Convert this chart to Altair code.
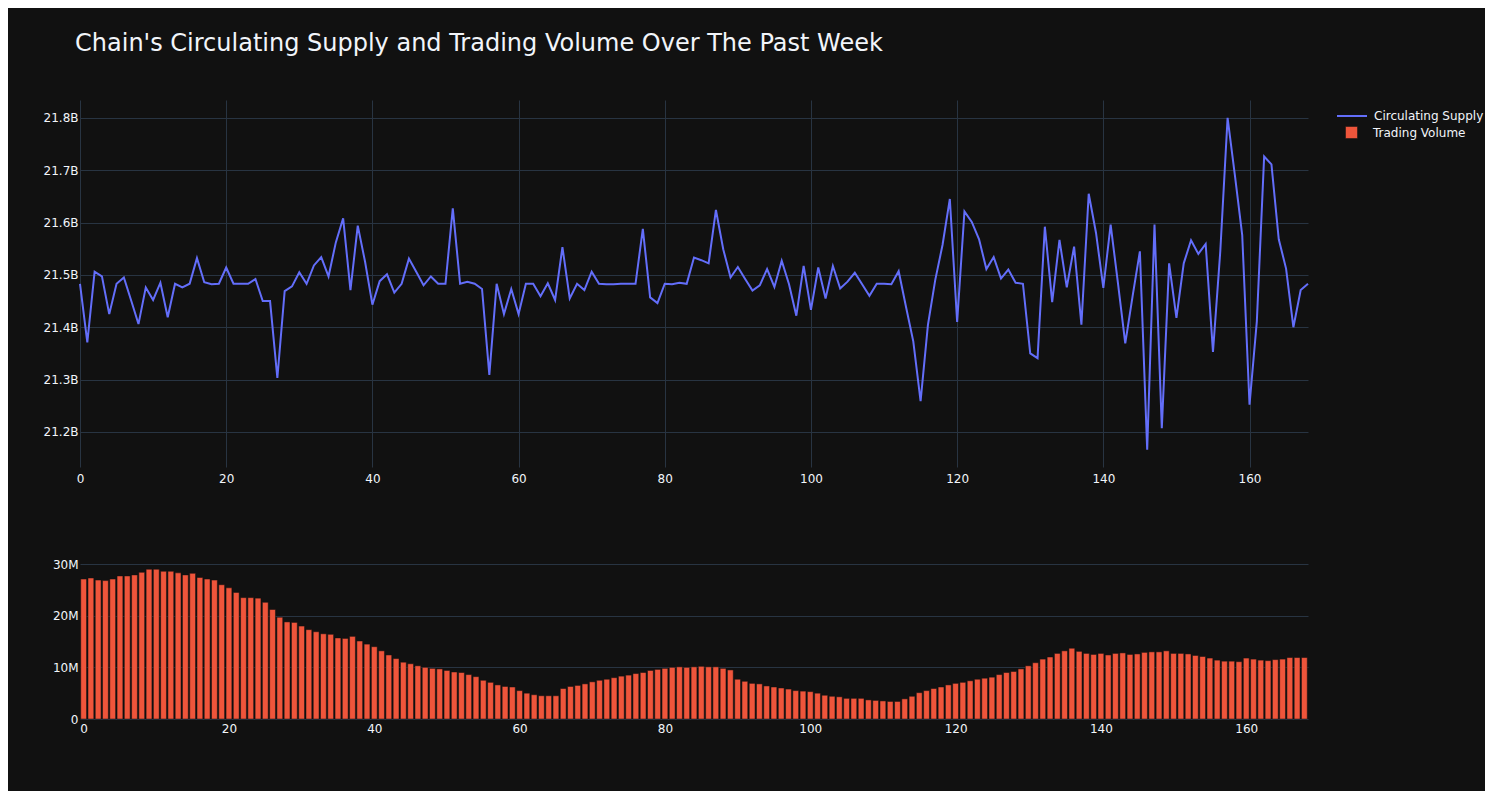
import altair as alt
import pandas as pd

hours = list(range(169))

supply_b = [
    21.483, 21.371, 21.506, 21.497, 21.425, 21.483, 21.495, 21.451, 21.406, 21.476,
    21.452, 21.485, 21.419, 21.483, 21.476, 21.483, 21.532, 21.486, 21.482, 21.483,
    21.514, 21.483, 21.483, 21.483, 21.492, 21.450, 21.450, 21.303, 21.469, 21.478,
    21.505, 21.483, 21.518, 21.534, 21.497, 21.562, 21.608, 21.471, 21.594, 21.525,
    21.443, 21.488, 21.501, 21.466, 21.483, 21.531, 21.506, 21.480, 21.497, 21.483,
    21.483, 21.627, 21.483, 21.487, 21.483, 21.473, 21.309, 21.483, 21.425, 21.473,
    21.425, 21.483, 21.483, 21.459, 21.484, 21.452, 21.553, 21.455, 21.483, 21.471,
    21.506, 21.483, 21.482, 21.482, 21.483, 21.483, 21.483, 21.588, 21.457, 21.446,
    21.483, 21.482, 21.485, 21.483, 21.533, 21.528, 21.522, 21.624, 21.549, 21.495,
    21.515, 21.492, 21.470, 21.480, 21.511, 21.477, 21.527, 21.482, 21.422, 21.517,
    21.433, 21.514, 21.455, 21.517, 21.474, 21.487, 21.504, 21.482, 21.460, 21.483,
    21.483, 21.482, 21.507, 21.439, 21.373, 21.259, 21.404, 21.490, 21.557, 21.645,
    21.410, 21.621, 21.601, 21.568, 21.511, 21.534, 21.493, 21.510, 21.485, 21.483,
    21.350, 21.341, 21.592, 21.448, 21.567, 21.476, 21.554, 21.405, 21.655, 21.580,
    21.475, 21.596, 21.484, 21.369, 21.459, 21.545, 21.166, 21.596, 21.207, 21.522,
    21.418, 21.522, 21.566, 21.540, 21.559, 21.353, 21.545, 21.800, 21.690, 21.576,
    21.252, 21.411, 21.726, 21.711, 21.568, 21.512, 21.400, 21.471, 21.483,
]

volume_m = [
    27.1, 27.3, 26.9, 26.8, 27.1, 27.7, 27.7, 27.9, 28.4, 29.0,
    29.0, 28.6, 28.6, 28.3, 27.9, 28.2, 27.4, 27.1, 26.9, 26.0,
    25.4, 24.5, 23.5, 23.5, 23.4, 22.6, 21.2, 19.7, 18.8, 18.7,
    18.0, 17.3, 16.9, 16.5, 16.4, 15.7, 15.6, 16.0, 15.1, 14.5,
    14.0, 13.2, 12.4, 11.7, 11.0, 10.7, 10.3, 10.0, 9.8, 9.7,
    9.4, 9.1, 9.0, 8.6, 8.2, 7.5, 7.1, 6.6, 6.3, 6.2,
    5.5, 5.0, 4.7, 4.5, 4.5, 4.5, 5.9, 6.3, 6.5, 6.8,
    7.2, 7.5, 7.7, 8.0, 8.3, 8.5, 8.8, 9.0, 9.4, 9.6,
    9.8, 10.0, 10.1, 10.0, 10.1, 10.2, 10.1, 10.1, 9.8, 9.5,
    7.7, 7.3, 6.9, 6.8, 6.4, 6.2, 6.0, 5.8, 5.5, 5.4,
    5.3, 5.0, 4.6, 4.4, 4.3, 4.0, 4.0, 4.0, 3.7, 3.6,
    3.5, 3.4, 3.4, 3.9, 4.4, 5.1, 5.5, 5.9, 6.2, 6.6,
    6.9, 7.1, 7.4, 7.7, 7.9, 8.1, 8.6, 9.0, 9.2, 9.7,
    10.3, 10.9, 11.6, 12.0, 12.7, 13.2, 13.7, 13.1, 12.7, 12.5,
    12.7, 12.4, 12.7, 12.8, 12.5, 12.6, 12.9, 13.0, 13.0, 13.2,
    12.7, 12.7, 12.6, 12.3, 12.1, 11.8, 11.4, 11.2, 11.2, 11.1,
    11.8, 11.6, 11.4, 11.3, 11.5, 11.6, 11.9, 11.9, 11.9,
]

x_ticks = [0, 20, 40, 60, 80, 100, 120, 140, 160]
supply_ticks = [21.2e9, 21.3e9, 21.4e9, 21.5e9, 21.6e9, 21.7e9, 21.8e9]
volume_ticks = [0, 10e6, 20e6, 30e6]

BG = "#111111"
GRID = "#283442"
TXT = "#f2f5fa"
LINE_C = "#636efa"
BAR_C = "#EF553B"

df_s = pd.DataFrame({
    "hour": hours,
    "supply": [v * 1e9 for v in supply_b],
    "series": "Circulating Supply",
})
df_v = pd.DataFrame({
    "hour": hours,
    "volume": [v * 1e6 for v in volume_m],
    "series": "Trading Volume",
})

top = alt.Chart(df_s).mark_line(strokeWidth=2).encode(
    x=alt.X("hour:Q", title=None,
            scale=alt.Scale(domain=[0, 168], nice=False, zero=False),
            axis=alt.Axis(values=x_ticks, grid=True, gridColor=GRID, domain=False,
                          ticks=False, labelPadding=6, labelFlush=False)),
    y=alt.Y("supply:Q", title=None,
            scale=alt.Scale(domain=[21.133e9, 21.834e9], nice=False, zero=False),
            axis=alt.Axis(values=supply_ticks, grid=True, gridColor=GRID, domain=False,
                          ticks=False, labelPadding=2,
                          labelExpr="format(datum.value / 1e9, '.1f') + 'B'")),
    stroke=alt.Stroke("series:N",
                      scale=alt.Scale(domain=["Circulating Supply"], range=[LINE_C]),
                      legend=alt.Legend(title=None, orient="none", legendX=1256, legendY=0,
                                        symbolType="stroke", symbolSize=900,
                                        symbolStrokeWidth=2, labelOffset=6)),
).properties(width=1228, height=367)

bottom = alt.Chart(df_v).transform_calculate(
    x0="datum.hour - 0.4", x1="datum.hour + 0.4"
).mark_bar(stroke=BG, strokeWidth=0.5).encode(
    x=alt.X("x0:Q", title=None,
            scale=alt.Scale(domain=[-0.5, 168.5], nice=False, zero=False),
            axis=alt.Axis(values=x_ticks, grid=False, domain=False, ticks=False,
                          labelPadding=4, labelFlush=False)),
    x2="x1:Q",
    y=alt.Y("volume:Q", title=None,
            scale=alt.Scale(domain=[0, 30.4e6], nice=False),
            axis=alt.Axis(values=volume_ticks, grid=True, gridColor=GRID, domain=False,
                          ticks=False, labelPadding=2,
                          labelExpr="datum.value == 0 ? '0' : format(datum.value / 1e6, 'd') + 'M'")),
    y2=alt.datum(0),
    fill=alt.Fill("series:N",
                  scale=alt.Scale(domain=["Trading Volume"], range=[BAR_C]),
                  legend=alt.Legend(title=None, orient="none", legendX=1265, legendY=26,
                                    symbolType="square", symbolSize=144,
                                    symbolStrokeColor=BG, symbolStrokeWidth=0.5,
                                    labelOffset=15)),
).properties(width=1228, height=157)

chart = alt.vconcat(top, bottom, spacing=95, bounds="flush").resolve_scale(
    x="independent"
).properties(
    title=alt.TitleParams(
        "Chain's Circulating Supply and Trading Volume Over The Past Week",
        anchor="start", fontSize=24, fontWeight="normal", color=TXT,
        font="DejaVu Sans", offset=44, dx=32,
    ),
    background=BG,
    padding={"left": 35, "top": 24, "right": 1, "bottom": 57},
).configure_view(stroke=None).configure_axis(
    labelColor=TXT, labelFontSize=12, labelFont="DejaVu Sans",
).configure_legend(
    labelColor=TXT, labelFontSize=12, labelFont="DejaVu Sans",
)

chart.save("out.html", embed_options={"renderer": "svg", "actions": False})
